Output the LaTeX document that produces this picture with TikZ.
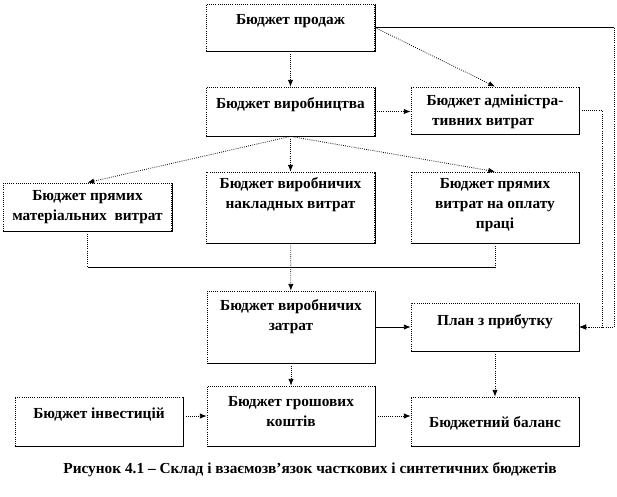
\documentclass[tikz,border=0pt]{standalone}
\usepackage{fontspec}
\setmainfont{Liberation Serif}
\usetikzlibrary{arrows.meta}

\begin{document}
\begin{tikzpicture}[x=0.75pt,y=-0.75pt,>={Latex[length=5pt,width=4pt]},
                     line cap=butt,
  budget/.style={draw,densely dotted,line width=.6pt,
                 minimum width=126pt,inner sep=0pt},
  btext/.style={font=\bfseries\fontsize{11.5}{15}\selectfont,align=center},
  link/.style={densely dotted,line width=.6pt},
  solidlink/.style={line width=.6pt}]
  \useasboundingbox (0,0) rectangle (617,496);
  % Блоки бюджетів
  \node[budget,minimum height=35.25pt] (prod)  at (290.5,27.5)  {};
  \node[budget,minimum height=36.75pt] (vyr)   at (290.5,111.5) {};
  \node[budget,minimum height=35.25pt] (adm)   at (495,110.5)   {};
  \node[budget,minimum height=36pt]    (mat)   at (87.5,207)    {};
  \node[budget,minimum height=53.25pt] (nakl)  at (290.5,207.5) {};
  \node[budget,minimum height=53.25pt] (opl)   at (495,207.5)   {};
  \node[budget,minimum height=54pt]    (zatr)  at (291,327)     {};
  \node[budget,minimum height=36pt]    (plan)  at (495,327)     {};
  \node[budget,minimum height=36.75pt] (inv)   at (99,421.5)    {};
  \node[budget,minimum height=45pt]    (grosh) at (291,416)     {};
  \node[budget,minimum height=36.75pt] (bal)   at (495,421.5)   {};
  \foreach \b in {prod,vyr,adm,mat,nakl,opl,zatr,plan,inv,grosh,bal}
    \draw[solidlink] (\b.south west) -- (\b.south east) -- (\b.north east);
  % Написи
  \node[btext] (tprod)  at (290.5,21)  {Бюджет продаж};
  \node[btext] (tvyr)   at (290.5,105) {Бюджет виробництва};
  \node[btext] (tadm)   at (495,112)
       {Бюджет адміністра-\\тивних витрат\hspace*{18pt}};
  \node[btext] (tmat)   at (87.5,207.5)
       {Бюджет прямих\\матеріальних\ \ витрат};
  \node[btext] (tnakl)  at (290.5,195)
       {Бюджет виробничих\\накладных витрат};
  \node[btext] (topl)   at (495,205)
       {Бюджет прямих\\витрат на оплату\\праці};
  \node[btext] (tzatr)  at (291,317) {Бюджет виробничих\\затрат};
  \node[btext] (tplan)  at (495,322) {План з прибутку};
  \node[btext] (tinv)   at (99,415)  {Бюджет інвестицій};
  \node[btext] (tgrosh) at (291,411.5) {Бюджет грошових\\коштів};
  \node[btext] (tbal)   at (495,423) {Бюджетний баланс};
  \node[btext] (cap)    at (310,470)
       {Рисунок 4.1 – Склад і взаємозв’язок часткових і синтетичних бюджетів};
  % Зв'язки
  \coordinate (rtop) at (614,27.5);
  \coordinate (rbot) at (614,327);
  \coordinate (mbot) at (602,327);
  \coordinate (jm) at (87.5,267);
  \coordinate (jo) at (495,267);
  \draw[link,->] (prod) -- (vyr);
  \draw[link,->] (prod.east) -- (adm.north);
  \draw[solidlink] (prod.east) -- (rtop);
  \draw[link,->] (rtop) -- (rbot) -- (plan.east);
  \draw[link,->] (vyr.east) -- (vyr.east -| adm.west);
  \draw[link,->] (adm.east) -| (mbot) -- (plan.east);
  \draw[link,->] (vyr.south) -- (mat.north);
  \draw[link,->] (vyr.south) -- (nakl.north);
  \draw[link,->] (vyr.south) -- (opl.north);
  \draw[link] (mat.south) -- (jm);
  \draw[link] (opl.south) -- (jo);
  \draw[solidlink] (jm) -- (jo);
  \draw[link,->] (nakl) -- (zatr);
  \draw[solidlink,->] (zatr.east) -- (plan.west);
  \draw[link,->] (zatr) -- (grosh);
  \draw[link,->] (plan) -- (bal);
  \draw[link,->] (grosh.west -| inv.east) -- (grosh.west);
  \draw[link,->] (grosh.east) -- (grosh.east -| bal.west);
\end{tikzpicture}
\end{document}
